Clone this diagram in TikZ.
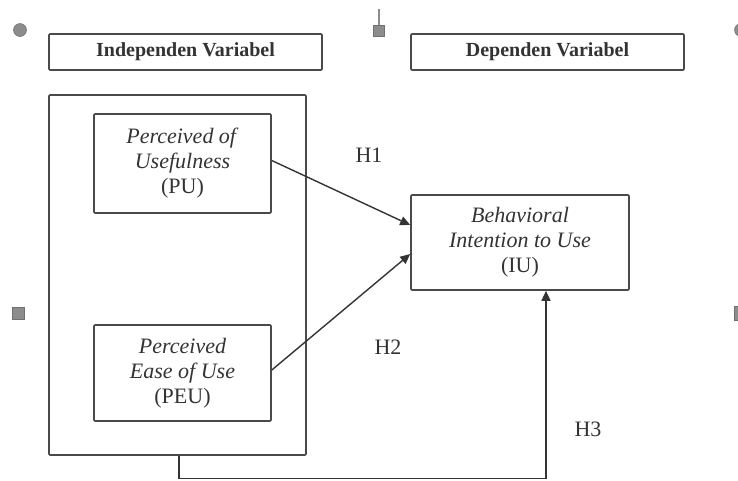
\documentclass[tikz,border=0pt]{standalone}
\usepackage{fontspec}
\setmainfont{Liberation Serif}
\usetikzlibrary{arrows.meta}

\definecolor{garis}{HTML}{4A4A4A}
\definecolor{teks}{HTML}{333333}
\definecolor{penanda}{HTML}{8C8C8C}

\begin{document}
\begin{tikzpicture}[x=1pt, y=-1pt,
    kotak/.style={draw=garis, line width=1.6pt, rounded corners=1pt, inner sep=0pt},
    judul/.style={kotak, minimum width=273pt, minimum height=36pt, text=teks,
        font=\fontsize{20}{22}\selectfont\bfseries},
    konstruk/.style={kotak, minimum width=177pt, align=center, text=teks,
        font=\fontsize{22}{25}\selectfont},
    panah/.style={draw=garis!70!black, line width=1.4pt, -{Triangle[length=10pt, width=9pt]}},
    hipotesis/.style={text=teks, font=\fontsize{22}{25}\selectfont},
    tanda/.style={fill=penanda, draw=penanda!80!black, line width=0.5pt}]
    \useasboundingbox (0,0) rectangle (738,480);

    % header boxes
    \node[judul] (indep) at (185.5,52) {Independen Variabel};
    \node[judul] (dep) at (547.5,52) {Dependen Variabel};

    % independent variables
    \node[kotak, minimum width=257pt, minimum height=360pt] (luar) at (177.5,275) {};
    \node[konstruk, minimum height=99pt] (pu) at (182.5,163.5)
        {\textit{Perceived of}\\\textit{Usefulness}\\(PU)};
    \node[konstruk, minimum height=96pt] (peu) at (182.5,373)
        {\textit{Perceived}\\\textit{Ease of Use}\\(PEU)};

    % dependent variable
    \node[konstruk, minimum width=218pt, minimum height=95pt] (iu) at (520,242.5)
        {\textit{Behavioral}\\\textit{Intention to Use}\\(IU)};

    % H1, H2
    \draw[panah] ([yshift=3pt]pu.east) -- ([yshift=17.5pt]iu.west);
    \draw[panah] ([yshift=3pt]peu.east) -- ([yshift=-11.5pt]iu.west);

    % H3
    \coordinate (belok) at (179,478.5);
    \draw[panah] ([xshift=1.5pt]luar.south) -- (belok) -| ([xshift=26pt]iu.south);

    % labels
    \node[hipotesis] (h1) at (369,155) {H1};
    \node[hipotesis] (h2) at (388,347) {H2};
    \node[hipotesis] (h3) at (588,429) {H3};

    % layout markers
    \draw[tanda] (20,30) circle (6.5);
    \draw[penanda, line width=1.5pt] (379,9) -- (379,25);
    \draw[tanda] (373.5,25) rectangle (384.5,36);
    \draw[tanda] (12.5,307.5) rectangle (24.5,319.5);
    \draw[tanda] (741,30) circle (6.5);
    \draw[tanda] (734.5,306) rectangle (740,320);
\end{tikzpicture}
\end{document}
